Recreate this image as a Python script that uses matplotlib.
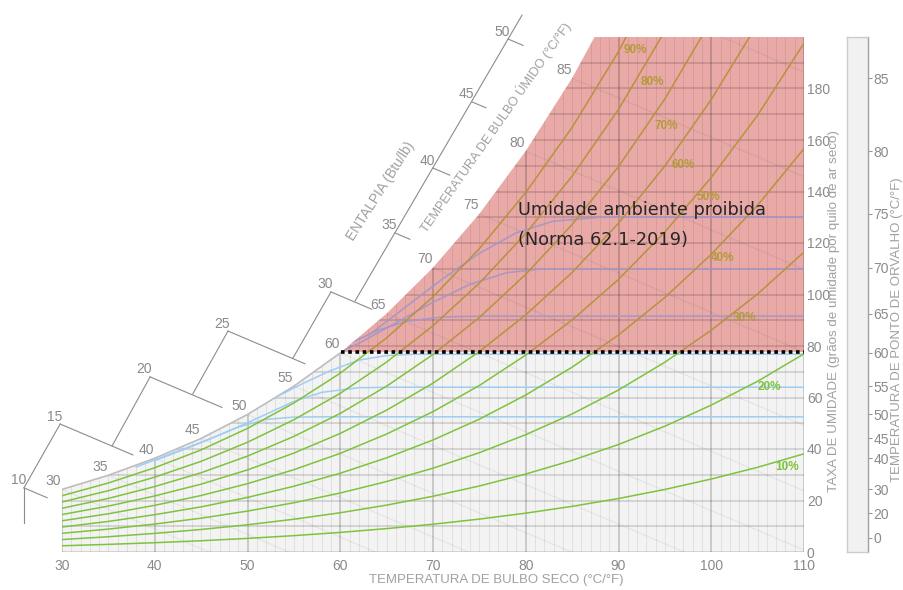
import numpy as np
import matplotlib.pyplot as plt
from matplotlib.patches import Polygon

# temperatura de bulbo seco (F) e umidade de saturacao (graos/lb)
temp = [30, 35, 40, 45, 50, 55, 60, 65, 70, 75, 80, 85, 90, 95, 100, 105, 110]
w_sat = [24.3, 29.8, 36.4, 44.1, 53.4, 64.4, 77.3, 92.6, 110.4, 131.3, 155.7,
         184.0, 217.0, 255.8, 301.0, 353.0, 414.0]

# umidade relativa
ur = [0.1, 0.2, 0.3, 0.4, 0.5, 0.6, 0.7, 0.8, 0.9]
ur_txt = ['10%', '20%', '30%', '40%', '50%', '60%', '70%', '80%', '90%']
ur_txt_t = [108.2, 106.3, 103.6, 101.2, 99.7, 97.0, 95.2, 93.6, 91.8]
ur_txt_w = [33.0, 64.1, 90.9, 114.2, 138.0, 150.3, 165.4, 182.5, 194.9]

# limite da norma (ponto de orvalho 60F)
limite = 77.7

# curvas azuis
azul_t = [
    [38, 42, 46, 49, 52, 55, 58, 110],
    [40, 44, 48, 52, 55, 58, 62, 66, 110],
    [53, 56, 59, 62, 65, 68, 110],
    [58, 61, 64, 67, 71, 75, 110],
    [59, 62, 66, 70, 74, 78, 82, 110],
    [63, 67, 71, 75, 79, 83, 88, 110],
]
azul_w = [
    [33, 38.5, 44, 48.5, 51.5, 52.4, 52.5, 52.5],
    [35.5, 41, 47, 53.5, 58.5, 62, 63.8, 64, 64],
    [60, 65.5, 70.5, 74.5, 76.3, 76.8, 76.8],
    [75, 81, 86, 89.5, 91.3, 91.6, 91.6],
    [76, 81, 89, 97, 104, 108.5, 110, 110],
    [84, 95, 106, 116, 124, 128.5, 130, 130],
]

# bulbo umido (linhas e rotulos)
bu = [30, 35, 40, 45, 50, 55, 60, 65, 70, 75, 80, 85]
bu_extra = [90, 95, 100]
incl_bu = -1.53

# ponto de orvalho (barra da direita)
po = [0, 20, 30, 40, 45, 50, 55, 60, 65, 70, 75, 80, 85]
po_w = [5.5, 15.0, 24.3, 36.4, 44.1, 53.4, 64.4, 77.3, 92.6, 110.4, 131.3, 155.7, 184.0]

# escala de entalpia
ent = [10, 15, 20, 25, 30, 35, 40, 45, 50]
ent_t = [25.9, 29.8, 39.5, 47.9, 59.0, 65.9, 70.0, 74.2, 78.1]
ent_w = [24.9, 49.7, 68.0, 85.8, 101.0, 123.9, 149.1, 174.8, 199.2]
ent_ext = [2.5, 7.85, 7.75, 8.3, 4.4, 1.6, 1.8, 1.5, 1.6]
ent_seg0 = [(25.9, 24.9), (35.4, 41.2), (44.1, 61.4), (54.9, 75.3), (61.6, 97.5)]
ent_seg1 = [(29.8, 49.7), (39.5, 68.0), (47.9, 85.8), (59.0, 101.0), (79.6, 208.5)]

fn = ['Liberation Sans', 'DejaVu Sans']
cinza = '#8a8a8a'
cinza2 = '#a0a0a0'

fig = plt.figure(figsize=(9.04, 5.90), dpi=100)
ax = fig.add_axes([62/904, 38/590, 742/904, 515/590])
ax.set_xlim(30, 110)
ax.set_ylim(0, 200)
for s in ax.spines.values():
    s.set_visible(False)

t_lim = np.interp(limite, w_sat, temp)
sat_pts = list(zip(temp, w_sat))
poly_all = Polygon([(30, 0)] + sat_pts + [(110, 0)], closed=True, transform=ax.transData)
low_pts = [(t, w) for t, w in sat_pts if w < limite] + [(t_lim, limite), (110, limite)]
poly_low = Polygon([(30, 0)] + low_pts + [(110, 0)], closed=True, transform=ax.transData)
up_pts = [(t_lim, limite)] + [(t, w) for t, w in sat_pts if w > limite] + [(110, limite)]
poly_up = Polygon(up_pts, closed=True, transform=ax.transData)

ax.add_patch(Polygon([(30, 0)] + sat_pts + [(110, 0)], closed=True,
                     fc='#f3f3f3', ec='none', zorder=0.5))
ax.add_patch(Polygon(up_pts, closed=True, fc='#e8a9a7', ec='none', zorder=1))

# grade
t_min = [t for t in range(31, 110) if t % 10 != 0]
g1 = ax.vlines(t_min, 0, 200, color='k', alpha=0.08, lw=0.7, zorder=2)
g2 = ax.vlines(range(30, 111, 10), 0, 200, color='k', alpha=0.19, lw=1.3, zorder=2)
g3 = ax.hlines(range(0, 200, 10), 30, 110, color='k', alpha=0.16, lw=1.1, zorder=2)
for g in (g1, g2, g3):
    g.set_clip_path(poly_all)

# linhas de bulbo umido
for b in bu + bu_extra:
    wb = w_sat[temp.index(b)]
    ln, = ax.plot([b, b - wb / incl_bu], [wb, 0], color='k', alpha=0.05, lw=1, zorder=2)
    ln.set_clip_path(poly_all)

ax.plot([t for t, w in low_pts[:-1]], [w for t, w in low_pts[:-1]],
        color='#bdbdbd', lw=1.2, zorder=2)

# curvas azuis
for xs, ys in zip(azul_t, azul_w):
    a, = ax.plot(xs, ys, color='#9fcdf3', lw=1.1, zorder=3)
    a.set_clip_path(poly_low)
    b, = ax.plot(xs, ys, color='#a697c6', lw=1.1, zorder=3)
    b.set_clip_path(poly_up)

# curvas de umidade relativa
tt = np.array(temp)
ws = np.array(w_sat) / 7000
frac = ws / (0.622 + ws)
for r in ur:
    w = 7000 * 0.622 * r * frac / (1 - r * frac)
    a, = ax.plot(tt, w, color='#7dc33c', lw=1.1, zorder=4)
    a.set_clip_path(poly_low)
    b, = ax.plot(tt, w, color='#b8923c', lw=1.1, zorder=4)
    b.set_clip_path(poly_up)

for txt, x, y in zip(ur_txt, ur_txt_t, ur_txt_w):
    c = '#b39a3a' if y > limite else '#7dc33c'
    ax.text(x, y, txt, color=c, fontsize=8.5, fontweight='bold',
            family=fn, ha='center', va='center', zorder=6)

ax.plot([t_lim, 110], [limite, limite], color='k', lw=2.6,
        linestyle=(0, (1, 1)), dash_capstyle='butt', zorder=5, clip_on=False)

ax.text(79.2, 130.9, 'Umidade ambiente proibida', fontsize=12.8, color='#262626',
        family='DejaVu Sans', va='baseline', ha='left', zorder=6)
ax.text(79.2, 119.2, '(Norma 62.1-2019)', fontsize=12.8, color='#262626',
        family='DejaVu Sans', va='baseline', ha='left', zorder=6)

# rotulos de bulbo umido
for b in bu:
    ax.text(b - 0.9, w_sat[temp.index(b)] + 3.3, str(b), fontsize=10, color=cinza,
            family=fn, ha='center', va='center', clip_on=False)

# escala de entalpia
kw = dict(color='#8c8c8c', lw=0.8, clip_on=False, zorder=2)
ax.plot([ent_t[0], ent_t[0]], [ent_w[0], 11.3], **kw)
for h, x, y, e in zip(ent, ent_t, ent_w, ent_ext):
    ax.plot([x, x + e], [y, y + incl_bu * e], **kw)
    ax.text(x - 0.6, y + 2.9, str(h), fontsize=10, color=cinza, family=fn,
            ha='center', va='center', clip_on=False)
for p0, p1 in zip(ent_seg0, ent_seg1):
    ax.plot([p0[0], p1[0]], [p0[1], p1[1]], **kw)

fig.text(381/904, 1 - 191/590, 'ENTALPIA (Btu/lb)', rotation=57.5, fontsize=10,
         color=cinza2, family=fn, ha='center', va='center')
fig.text(496/904, 1 - 127/590, 'TEMPERATURA DE BULBO ÚMIDO (°C/°F)', rotation=55,
         fontsize=9.3, color=cinza2, family=fn, ha='center', va='center')

# eixos
ax.set_xticks(range(30, 111, 10))
ax.yaxis.tick_right()
ax.set_yticks(range(0, 181, 20))
ax.tick_params(axis='both', length=0, colors=cinza, labelsize=10)
ax.tick_params(axis='x', pad=5)
ax.tick_params(axis='y', pad=2)
for lab in ax.get_xticklabels() + ax.get_yticklabels():
    lab.set_family(fn)

fig.text(496/904, 1 - 580/590, 'TEMPERATURA DE BULBO SECO (°C/°F)', fontsize=9.5,
         color=cinza2, family=fn, ha='center', va='center')
fig.text(834/904, 1 - 311/590, 'TAXA DE UMIDADE (grãos de umidade por quilo de ar seco)',
         rotation=90, fontsize=9.6, color=cinza2, family=fn, ha='center', va='center')

# barra do ponto de orvalho
ax2 = fig.add_axes([847/904, 38/590, 21/904, 515/590])
ax2.set_ylim(0, 200)
ax2.set_facecolor('#f1f1f1')
ax2.set_xticks([])
ax2.yaxis.tick_right()
ax2.set_yticks(po_w)
ax2.set_yticklabels([str(p) for p in po])
ax2.tick_params(axis='y', length=3, width=0.8, color='#999999', colors=cinza,
                labelsize=10, pad=1)
for lab in ax2.get_yticklabels():
    lab.set_family(fn)
for k, s in ax2.spines.items():
    s.set_color('#a0a0a0' if k == 'right' else '#cccccc')
    s.set_linewidth(1)

fig.text(897/904, 1 - 330/590, 'TEMPERATURA DE PONTO DE ORVALHO (°C/°F)', rotation=90,
         fontsize=9.5, color=cinza2, family=fn, ha='center', va='center')

plt.savefig('out.png', dpi=100)
